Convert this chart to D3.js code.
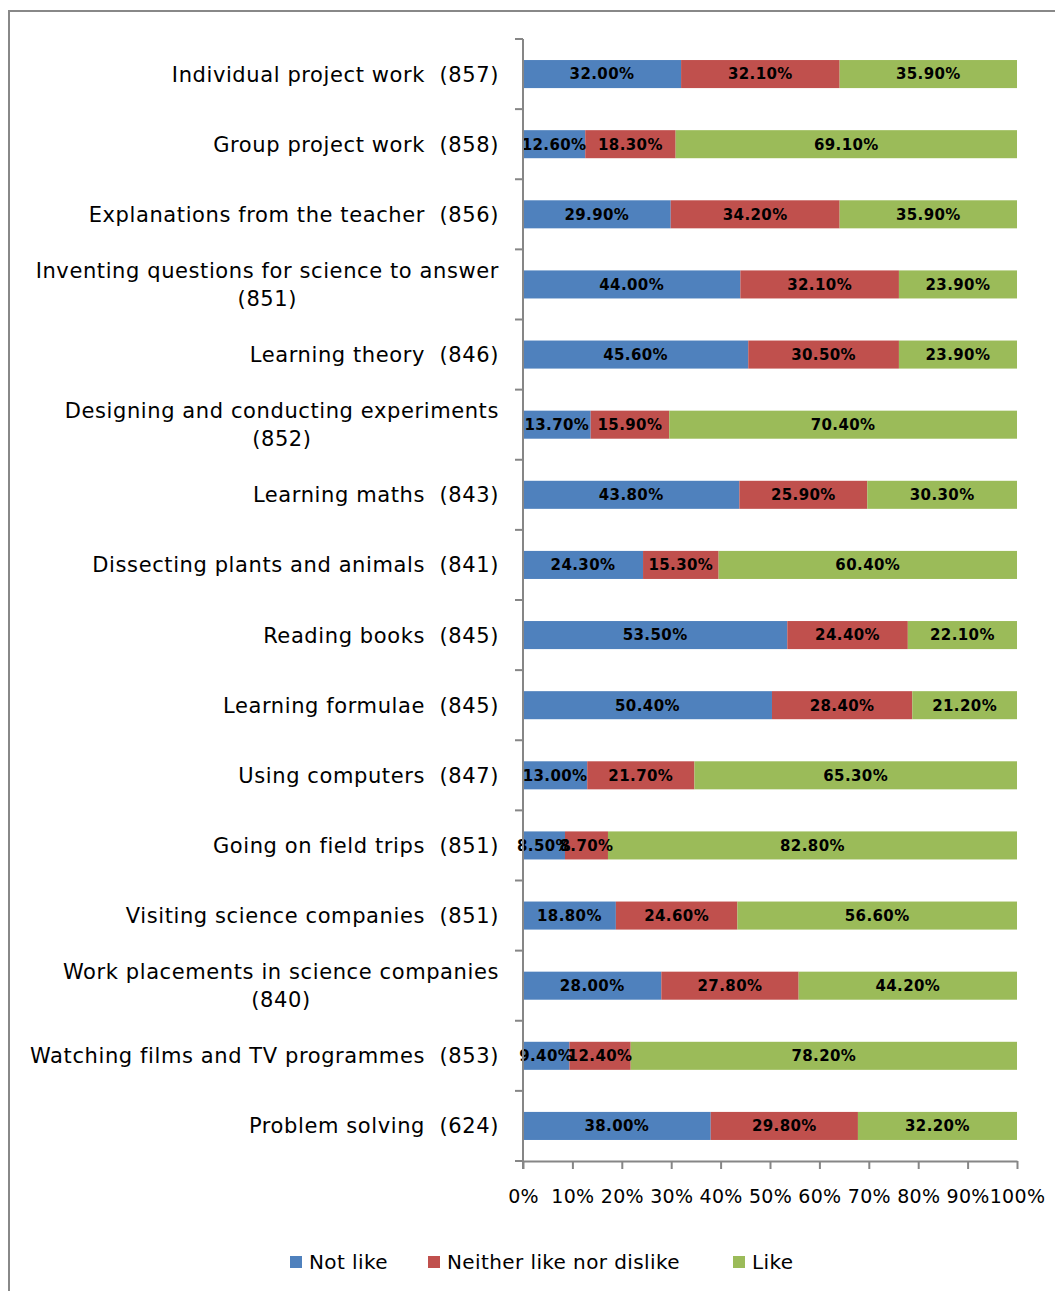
<!DOCTYPE html>
<html>
<head>
<meta charset="utf-8">
<script src="https://cdn.jsdelivr.net/npm/d3@7"></script>
<style>
  body { margin: 0; background: #fff; }
  svg { display: block; }
</style>
</head>
<body>
<div id="chart"></div>
<script>
// Activities (number of respondents in brackets)
const categories = [
    "Individual project work  (857)",
    "Group project work  (858)",
    "Explanations from the teacher  (856)",
    "Inventing questions for science to answer|(851)",
    "Learning theory  (846)",
    "Designing and conducting experiments|(852)",
    "Learning maths  (843)",
    "Dissecting plants and animals  (841)",
    "Reading books  (845)",
    "Learning formulae  (845)",
    "Using computers  (847)",
    "Going on field trips  (851)",
    "Visiting science companies  (851)",
    "Work placements in science companies|(840)",
    "Watching films and TV programmes  (853)",
    "Problem solving  (624)"
];
const seriesNames = ["Not like", "Neither like nor dislike", "Like"];
const notLike = [32.0, 12.6, 29.9, 44.0, 45.6, 13.7, 43.8, 24.3, 53.5, 50.4, 13.0, 8.5, 18.8, 28.0, 9.4, 38.0];
const neither = [32.1, 18.3, 34.2, 32.1, 30.5, 15.9, 25.9, 15.3, 24.4, 28.4, 21.7, 8.7, 24.6, 27.8, 12.4, 29.8];
const like    = [35.9, 69.1, 35.9, 23.9, 23.9, 70.4, 30.3, 60.4, 22.1, 21.2, 65.3, 82.8, 56.6, 44.2, 78.2, 32.2];
const tickValues = [0, 0.1, 0.2, 0.3, 0.4, 0.5, 0.6, 0.7, 0.8, 0.9, 1.0];
const colors = ["#4F81BD", "#C0504D", "#9BBB59"];

const width = 1055, height = 1291;
const margin = { top: 39, left: 523, right: 38, bottom: 130 };
const font = "DejaVu Sans";

const svg = d3.select("#chart").append("svg")
    .attr("width", width)
    .attr("height", height);

// outer frame
svg.append("rect")
    .attr("x", 9).attr("y", 11)
    .attr("width", 1100).attr("height", 1400)
    .attr("fill", "none")
    .attr("stroke", "#888")
    .attr("stroke-width", 2);

const table = categories.map((c, i) => ({
    cat: c,
    "Not like": notLike[i],
    "Neither like nor dislike": neither[i],
    "Like": like[i]
}));

const stacked = d3.stack()
    .keys(seriesNames)
    .offset(d3.stackOffsetExpand)(table);

const x = d3.scaleLinear()
    .domain([0, 1])
    .range([margin.left, width - margin.right]);

const y = d3.scaleBand()
    .domain(categories)
    .range([margin.top, height - margin.bottom])
    .paddingInner(0.6)
    .paddingOuter(0.3);

const bandStep = y.step();

// bars
const groups = svg.append("g")
    .selectAll("g")
    .data(stacked)
    .join("g")
    .attr("fill", (d, i) => colors[i]);

groups.selectAll("rect")
    .data(d => d)
    .join("rect")
    .attr("x", d => x(d[0]))
    .attr("width", d => x(d[1]) - x(d[0]))
    .attr("y", d => y(d.data.cat))
    .attr("height", y.bandwidth());

// value labels
const series = [notLike, neither, like];
stacked.forEach((s, si) => {
    svg.append("g")
        .selectAll("text")
        .data(s)
        .join("text")
        .attr("x", d => (x(d[0]) + x(d[1])) / 2)
        .attr("y", d => y(d.data.cat) + y.bandwidth() / 2)
        .attr("dy", "0.36em")
        .attr("text-anchor", "middle")
        .attr("font-family", font)
        .attr("font-weight", "bold")
        .attr("font-size", 15)
        .attr("letter-spacing", 0.4)
        .attr("fill", "#000")
        .text((d, i) => series[si][i].toFixed(2) + "%");
});

// y axis
const yAxis = svg.append("g");
yAxis.append("line")
    .attr("x1", margin.left).attr("x2", margin.left)
    .attr("y1", margin.top).attr("y2", height - margin.bottom + 8)
    .attr("stroke", "#868686").attr("stroke-width", 2);
yAxis.selectAll("line.tick")
    .data(d3.range(categories.length + 1))
    .join("line")
    .attr("class", "tick")
    .attr("x1", margin.left - 8).attr("x2", margin.left)
    .attr("y1", i => margin.top + i * bandStep)
    .attr("y2", i => margin.top + i * bandStep)
    .attr("stroke", "#868686").attr("stroke-width", 2);

// category labels (wrapped ones are centred on their longest line)
const labelRight = 499;
const labelSize = 21, labelSpacing = 0.6;
categories.forEach(c => {
    const lines = c.split("|");
    const cy = y(c) + y.bandwidth() / 2;
    if (lines.length === 1) {
        svg.append("text")
            .attr("x", labelRight)
            .attr("y", cy)
            .attr("dy", "0.36em")
            .attr("text-anchor", "end")
            .attr("font-family", font)
            .attr("font-size", labelSize)
            .attr("letter-spacing", labelSpacing)
            .attr("xml:space", "preserve")
            .text(lines[0]);
    } else {
        const first = svg.append("text")
            .attr("x", labelRight)
            .attr("y", cy - 14)
            .attr("dy", "0.36em")
            .attr("text-anchor", "end")
            .attr("font-family", font)
            .attr("font-size", labelSize)
            .attr("letter-spacing", labelSpacing)
            .text(lines[0]);
        const w = first.node().getComputedTextLength();
        svg.append("text")
            .attr("x", labelRight - w / 2)
            .attr("y", cy + 14)
            .attr("dy", "0.36em")
            .attr("text-anchor", "middle")
            .attr("font-family", font)
            .attr("font-size", labelSize)
            .attr("letter-spacing", labelSpacing)
            .text(lines[1]);
    }
});

// x axis
const xAxis = svg.append("g")
    .attr("transform", `translate(0,${height - margin.bottom})`)
    .call(d3.axisBottom(x).tickValues(tickValues).tickFormat(d3.format(".0%")).tickSizeOuter(0).tickSizeInner(8));
xAxis.select(".domain").attr("stroke", "#868686").attr("stroke-width", 2);
xAxis.selectAll(".tick line").attr("stroke", "#868686").attr("stroke-width", 2);
xAxis.selectAll(".tick text")
    .attr("font-family", font)
    .attr("font-size", 19)
    .attr("letter-spacing", 0.3)
    .attr("fill", "#000")
    .attr("y", 29);

// legend
const legendItems = [
    { name: "Not like", x: 290 },
    { name: "Neither like nor dislike", x: 428 },
    { name: "Like", x: 733 }
];
const legend = svg.append("g").attr("transform", "translate(0,1262)");
legendItems.forEach((item, i) => {
    legend.append("rect")
        .attr("x", item.x).attr("y", -6)
        .attr("width", 12).attr("height", 12)
        .attr("fill", colors[i]);
    legend.append("text")
        .attr("x", item.x + 19)
        .attr("y", 0)
        .attr("dy", "0.36em")
        .attr("font-family", font)
        .attr("font-size", 20)
        .attr("letter-spacing", 0.4)
        .text(item.name);
});
</script>
</body>
</html>
